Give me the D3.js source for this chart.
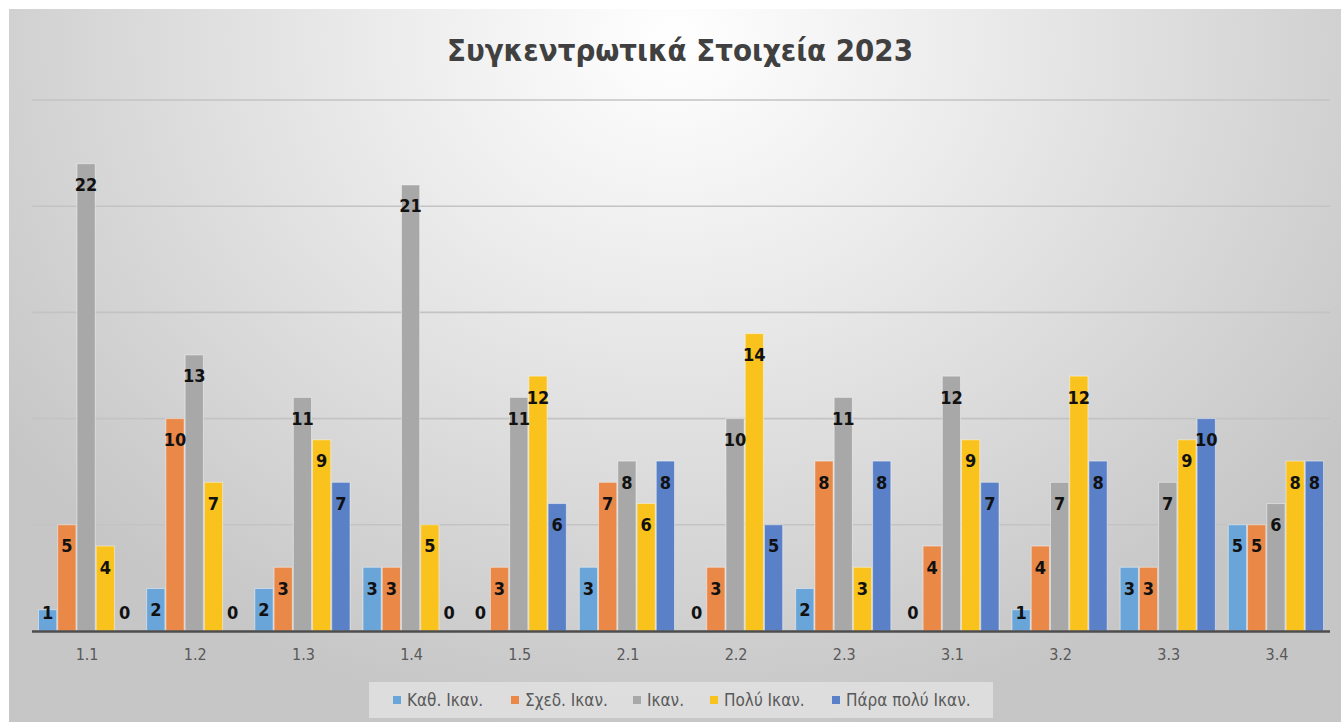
<!DOCTYPE html>
<html>
<head>
<meta charset="utf-8">
<script src="https://cdn.jsdelivr.net/npm/d3@7"></script>
<style>
  html, body { margin: 0; padding: 0; background: #ffffff; }
  svg { display: block; }
</style>
</head>
<body>
<svg id="chart" width="1341" height="722"></svg>
<script>
// ---- Data ----
const categories = ["1.1", "1.2", "1.3", "1.4", "1.5", "2.1", "2.2", "2.3", "3.1", "3.2", "3.3", "3.4"];
const seriesNames = ["Καθ. Ικαν.", "Σχεδ. Ικαν.", "Ικαν.", "Πολύ Ικαν.", "Πάρα πολύ Ικαν."];
const kathIkan     = [1, 2, 2, 3, 0, 3, 0, 2, 0, 1, 3, 5];
const sxedIkan     = [5, 10, 3, 3, 3, 7, 3, 8, 4, 4, 3, 5];
const ikan         = [22, 13, 11, 21, 11, 8, 10, 11, 12, 7, 7, 6];
const polyIkan     = [4, 7, 9, 5, 12, 6, 14, 3, 9, 12, 9, 8];
const paraPolyIkan = [0, 0, 7, 0, 6, 8, 5, 8, 7, 8, 10, 8];
const yTicks = [0, 5, 10, 15, 20, 25];
const title = "Συγκεντρωτικά Στοιχεία 2023";

const seriesValues = [kathIkan, sxedIkan, ikan, polyIkan, paraPolyIkan];
const colors = ["#6aa5d9", "#ea8848", "#a8a8a8", "#f9c21c", "#5a80c8"];

const svg = d3.select("#chart");
const W = 1341, H = 722;
const labelFont = "'Liberation Sans Narrow', 'DejaVu Sans Condensed', 'Open Sans', sans-serif";

// ---- Background ----
const defs = svg.append("defs");
const rg = defs.append("radialGradient").attr("id", "bg")
  .attr("gradientUnits", "userSpaceOnUse")
  .attr("cx", 675).attr("cy", 40).attr("r", 820)
  .attr("gradientTransform", "translate(675,40) scale(1,0.85) translate(-675,-40)");
rg.append("stop").attr("offset", "0").attr("stop-color", "#ffffff");
rg.append("stop").attr("offset", "0.35").attr("stop-color", "#ececec");
rg.append("stop").attr("offset", "1").attr("stop-color", "#c6c6c6");
svg.append("rect").attr("x", 9).attr("y", 9).attr("width", W - 9).attr("height", H - 9)
  .attr("fill", "url(#bg)");

// ---- Scales ----
const plotL = 32, plotR = 1330, plotTop = 100, plotBottom = 631;
const x0 = d3.scaleBand().domain(categories).range([plotL, plotR]).padding(0);
const x1 = d3.scaleBand().domain(d3.range(seriesNames.length))
  .range([6, x0.bandwidth() - 6]).padding(0);
const y = d3.scaleLinear().domain([0, 25]).range([plotBottom, plotTop]);

// ---- Grid ----
svg.append("g").selectAll("line").data(yTicks.filter(t => t > 0)).join("line")
  .attr("x1", plotL).attr("x2", plotR)
  .attr("y1", d => y(d)).attr("y2", d => y(d))
  .attr("stroke", "#c3c3c3").attr("stroke-width", 1.6);

// ---- Bars ----
const groups = svg.append("g").selectAll("g").data(categories).join("g")
  .attr("transform", c => `translate(${x0(c)},0)`);

groups.each(function(c, ci) {
  const g = d3.select(this);
  seriesValues.forEach((vals, si) => {
    const v = vals[ci];
    if (v > 0) {
      g.append("rect")
        .attr("x", x1(si) + 0.5)
        .attr("y", y(v))
        .attr("width", x1.bandwidth() - 1)
        .attr("height", y(0) - y(v))
        .attr("fill", colors[si])
        .attr("stroke", "rgba(255,255,255,0.45)")
        .attr("stroke-width", 1);
    }
  });
});

// ---- Axis line ----
svg.append("line").attr("x1", plotL).attr("x2", plotR)
  .attr("y1", y(0) + 0.5).attr("y2", y(0) + 0.5)
  .attr("stroke", "#4d4d4d").attr("stroke-width", 2.5);

// ---- Data labels ----
groups.each(function(c, ci) {
  const g = d3.select(this);
  seriesValues.forEach((vals, si) => {
    const v = vals[ci];
    const cy = Math.min(y(v) + 21, y(0) - 19);
    g.append("text")
      .attr("x", x1(si) + x1.bandwidth() / 2)
      .attr("y", cy + 6.5)
      .attr("text-anchor", "middle")
      .attr("font-family", labelFont)
      .attr("font-weight", "bold")
      .attr("font-size", 18)
      .attr("fill", "#111111")
      .text(v);
  });
});

// ---- Category axis labels ----
svg.append("g").selectAll("text").data(categories).join("text")
  .attr("x", c => x0(c) + x0.bandwidth() / 2 + 1)
  .attr("y", 660)
  .attr("text-anchor", "middle")
  .attr("font-family", labelFont)
  .attr("font-size", 16)
  .attr("fill", "#595959")
  .text(c => c);

// ---- Title ----
const t = svg.append("text")
  .attr("x", 680).attr("y", 61)
  .attr("text-anchor", "middle")
  .attr("font-family", labelFont)
  .attr("font-weight", "bold")
  .attr("font-size", 30)
  .attr("fill", "#404040")
  .text(title);
const tl = t.node().getComputedTextLength();
if (Math.abs(tl - 466) > 4) t.attr("textLength", 466).attr("lengthAdjust", "spacingAndGlyphs");

// ---- Legend ----
svg.append("rect").attr("x", 369).attr("y", 682).attr("width", 624).attr("height", 36)
  .attr("fill", "#e2e2e2").attr("fill-opacity", 0.8);
const markerX = [393, 511, 633, 710, 832];
const leg = svg.append("g").selectAll("g").data(seriesNames).join("g")
  .attr("transform", (d, i) => `translate(${markerX[i]},700)`);
leg.append("rect").attr("x", 0).attr("y", -4).attr("width", 8).attr("height", 8)
  .attr("fill", (d, i) => colors[i]);
leg.append("text").attr("x", 14).attr("y", 6)
  .attr("font-family", labelFont)
  .attr("font-size", 17)
  .attr("fill", "#595959")
  .text(d => d);
</script>
</body>
</html>
